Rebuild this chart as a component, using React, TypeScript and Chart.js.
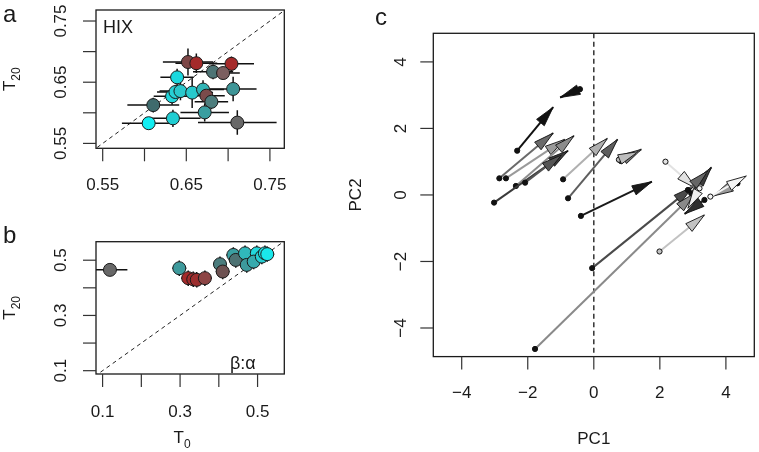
import React, { useEffect, useRef } from "react";
import { Chart, registerables } from "chart.js";
Chart.register(...registerables);

const FONT = '"Liberation Sans", Arial, Helvetica, sans-serif';

// ---------- Panel a (HIX) ----------
const aT0 = [0.652, 0.662, 0.704, 0.682, 0.694, 0.639, 0.706, 0.633, 0.637, 0.643, 0.657, 0.670, 0.674, 0.680, 0.6105, 0.672, 0.634, 0.605, 0.711];
const aT20 = [0.683, 0.681, 0.680, 0.667, 0.665, 0.658, 0.639, 0.627, 0.634, 0.6355, 0.633, 0.638, 0.628, 0.618, 0.6126, 0.6007, 0.591, 0.583, 0.584];
const aErrT0 = [0.030, 0.025, 0.027, 0.024, 0.020, 0.020, 0.028, 0.022, 0.022, 0.025, 0.025, 0.025, 0.022, 0.020, 0.031, 0.029, 0.033, 0.032, 0.047];
const aErrT20 = [0.022, 0.016, 0.012, 0.012, 0.010, 0.014, 0.020, 0.014, 0.012, 0.015, 0.025, 0.015, 0.016, 0.012, 0.012, 0.015, 0.014, 0.010, 0.020];
const aColors = ["#7d4747", "#a42a2a", "#a52a2a", "#4d7475", "#7b5f60", "#1ad8de", "#3e9597", "#22d6db", "#26d0d5", "#2ac8cc", "#27c9cc", "#31b4b6", "#7a4b4b", "#4d7d7d", "#3f6b6d", "#3a9ea0", "#21cdd2", "#12eef2", "#686868"];
const aTicks = [0.55, 0.6, 0.65, 0.7, 0.75];
const aTickLabels = ["0.55", "", "0.65", "", "0.75"];

// ---------- Panel b (beta:alpha) ----------
const bT0 = [0.119, 0.298, 0.321, 0.334, 0.343, 0.364, 0.403, 0.410, 0.4375, 0.4437, 0.4677, 0.472, 0.498, 0.490, 0.511, 0.519, 0.525];
const bT20 = [0.465, 0.471, 0.435, 0.431, 0.429, 0.435, 0.4855, 0.459, 0.519, 0.501, 0.525, 0.483, 0.525, 0.495, 0.513, 0.525, 0.522];
const bErrT0 = [0.045, 0.018, 0.018, 0.018, 0.018, 0.018, 0.018, 0.018, 0.018, 0.018, 0.018, 0.018, 0.018, 0.018, 0.018, 0.018, 0.018];
const bErrT20 = [0.0, 0.028, 0.028, 0.028, 0.028, 0.028, 0.028, 0.028, 0.028, 0.028, 0.028, 0.028, 0.028, 0.028, 0.028, 0.028, 0.028];
const bColors = ["#686868", "#3e9a9c", "#a52a2a", "#a32c2c", "#9c2e2e", "#8d4545", "#4b7c7d", "#6e5252", "#3aa0a2", "#4d7273", "#30b8bb", "#3d9a9c", "#22d8dc", "#36aaad", "#26cdd1", "#1ee2e6", "#1ae8ec"];
const bTicks = [0.1, 0.2, 0.3, 0.4, 0.5];
const bTickLabels = ["0.1", "", "0.3", "", "0.5"];

// ---------- Panel c (PCA arrows) ----------
const cX0 = [-2.32, -0.42, -2.86, -2.66, -2.36, -3.02, -2.08, -0.93, -0.78, 0.82, 0.76, -0.39, 2.17, -0.05, -1.78, 2.95, 2.85, 4.35, 3.53, 3.20, 3.35, 1.99];
const cY0 = [1.33, 3.18, 0.50, 0.50, 0.27, -0.23, 0.37, 0.47, -0.10, 1.02, 1.06, -0.63, 1.00, -2.20, -4.63, 0.05, 0.15, 0.35, -0.05, 0.20, -0.15, -1.70];
const cX1 = [-1.23, -1.02, -1.23, -0.88, -0.60, -0.78, -0.98, 0.41, 0.72, 1.44, 1.34, 1.76, 3.10, 3.00, 3.05, 3.56, 3.45, 3.62, 4.62, 2.85, 2.75, 3.35];
const cY1 = [2.64, 2.93, 1.86, 1.67, 1.78, 1.33, 1.20, 1.70, 1.67, 1.37, 1.30, 0.40, 0.20, 0.25, 0.05, 0.83, 0.72, -0.03, 0.57, -0.40, -0.57, -0.60];
const cShade = ["#111111", "#111111", "#6a6a6a", "#9a9a9a", "#8c8c8c", "#3a3a3a", "#555555", "#b0b0b0", "#5e5e5e", "#777777", "#bdbdbd", "#1a1a1a", "#e2e2e2", "#4a4a4a", "#8a8a8a", "#3c3c3c", "#666666", "#9a9a9a", "#f4f4f4", "#eeeeee", "#2e2e2e", "#c2c2c2"];
const cTicks = [-4, -2, 0, 2, 4];
const cTickLabels = ["\u22124", "\u22122", "0", "2", "4"];

const TXT = "#1a1a1a";

function lum(hex: string) {
  const v = parseInt(hex.slice(1, 3), 16);
  return v / 255;
}

function drawSub(ctx: CanvasRenderingContext2D, cx: number, cy: number, main: string, sub: string, size: number) {
  const subSize = Math.round(size * 0.72);
  ctx.font = `${size}px ${FONT}`;
  const w1 = ctx.measureText(main).width;
  ctx.font = `${subSize}px ${FONT}`;
  const w2 = sub ? ctx.measureText(sub).width : 0;
  const x0 = cx - (w1 + w2) / 2;
  const base = cy + size * 0.36;
  ctx.textAlign = "left";
  ctx.textBaseline = "alphabetic";
  ctx.font = `${size}px ${FONT}`;
  ctx.fillText(main, x0, base);
  if (sub) {
    ctx.font = `${subSize}px ${FONT}`;
    ctx.fillText(sub, x0 + w1, base + size * 0.28);
  }
}

type FrameCfg = {
  xTicks: number[]; xTickLabels: string[];
  yTicks: number[]; yTickLabels: string[];
  xLabOff: number; yLabOff: number;
  xTitle?: [string, string]; xTitleOff?: number; xTitleDx?: number;
  yTitle?: [string, string]; yTitleOff?: number;
  letter: string; letterX: number; letterY: number;
  note?: string; noteX?: number; noteY?: number;
  diag?: [number, number];
  vline?: number;
};

function framePlugin(f: FrameCfg) {
  return {
    id: "frame",
    beforeDatasetsDraw(chart: any) {
      const { ctx, chartArea: ca, scales } = chart;
      const x = scales.x, y = scales.y;
      ctx.save();
      ctx.beginPath();
      ctx.rect(ca.left, ca.top, ca.right - ca.left, ca.bottom - ca.top);
      ctx.clip();
      if (f.diag) {
        ctx.setLineDash([4, 3.5]);
        ctx.strokeStyle = "#222";
        ctx.lineWidth = 1;
        ctx.beginPath();
        ctx.moveTo(x.getPixelForValue(f.diag[0]), y.getPixelForValue(f.diag[0]));
        ctx.lineTo(x.getPixelForValue(f.diag[1]), y.getPixelForValue(f.diag[1]));
        ctx.stroke();
      }
      if (f.vline !== undefined) {
        ctx.setLineDash([5, 3.5]);
        ctx.strokeStyle = "#333";
        ctx.lineWidth = 1.5;
        const px = x.getPixelForValue(f.vline);
        ctx.beginPath();
        ctx.moveTo(px, ca.top);
        ctx.lineTo(px, ca.bottom);
        ctx.stroke();
      }
      ctx.restore();
    },
    afterDraw(chart: any) {
      const { ctx, chartArea: ca, scales } = chart;
      const x = scales.x, y = scales.y;
      ctx.save();
      ctx.strokeStyle = "#1a1a1a";
      ctx.lineWidth = 1.3;
      ctx.strokeRect(ca.left, ca.top, ca.right - ca.left, ca.bottom - ca.top);
      ctx.lineWidth = 1.2;
      ctx.strokeStyle = "#333";
      ctx.fillStyle = TXT;
      ctx.font = `17px ${FONT}`;
      f.xTicks.forEach((v, i) => {
        const px = x.getPixelForValue(v);
        ctx.beginPath();
        ctx.moveTo(px, ca.bottom);
        ctx.lineTo(px, ca.bottom + 13);
        ctx.stroke();
        if (f.xTickLabels[i]) {
          ctx.textAlign = "center";
          ctx.textBaseline = "middle";
          ctx.fillText(f.xTickLabels[i], px, ca.bottom + f.xLabOff);
        }
      });
      f.yTicks.forEach((v, i) => {
        const py = y.getPixelForValue(v);
        ctx.beginPath();
        ctx.moveTo(ca.left - 13, py);
        ctx.lineTo(ca.left, py);
        ctx.stroke();
        if (f.yTickLabels[i]) {
          ctx.save();
          ctx.translate(ca.left - f.yLabOff, py);
          ctx.rotate(-Math.PI / 2);
          ctx.textAlign = "center";
          ctx.textBaseline = "middle";
          ctx.fillText(f.yTickLabels[i], 0, 0);
          ctx.restore();
        }
      });
      if (f.xTitle) {
        drawSub(ctx, (ca.left + ca.right) / 2 + (f.xTitleDx || 0), ca.bottom + (f.xTitleOff || 0), f.xTitle[0], f.xTitle[1], 17);
      }
      if (f.yTitle) {
        ctx.save();
        ctx.translate(ca.left - (f.yTitleOff || 0), (ca.top + ca.bottom) / 2);
        ctx.rotate(-Math.PI / 2);
        drawSub(ctx, 0, 0, f.yTitle[0], f.yTitle[1], 17);
        ctx.restore();
      }
      ctx.font = `24px ${FONT}`;
      ctx.textAlign = "left";
      ctx.textBaseline = "alphabetic";
      ctx.fillText(f.letter, f.letterX, f.letterY);
      if (f.note) {
        ctx.font = `18px ${FONT}`;
        ctx.fillText(f.note, f.noteX || 0, f.noteY || 0);
      }
      ctx.restore();
    },
  };
}

function errPlugin(xs: number[], ys: number[], ex: number[], ey: number[]) {
  return {
    id: "errbars",
    beforeDatasetsDraw(chart: any) {
      const { ctx, chartArea: ca, scales } = chart;
      const x = scales.x, y = scales.y;
      ctx.save();
      ctx.beginPath();
      ctx.rect(ca.left, ca.top, ca.right - ca.left, ca.bottom - ca.top);
      ctx.clip();
      ctx.strokeStyle = "#111";
      ctx.lineWidth = 1.5;
      xs.forEach((v, i) => {
        const px = x.getPixelForValue(v);
        const py = y.getPixelForValue(ys[i]);
        ctx.beginPath();
        if (ex[i] > 0) {
          ctx.moveTo(x.getPixelForValue(v - ex[i]), py);
          ctx.lineTo(x.getPixelForValue(v + ex[i]), py);
        }
        if (ey[i] > 0) {
          ctx.moveTo(px, y.getPixelForValue(ys[i] - ey[i]));
          ctx.lineTo(px, y.getPixelForValue(ys[i] + ey[i]));
        }
        ctx.stroke();
      });
      ctx.restore();
    },
  };
}

const arrowHeadPlugin = {
  id: "arrowheads",
  afterDatasetDraw(chart: any, args: any) {
    const i = args.index;
    const { ctx, scales } = chart;
    const x = scales.x, y = scales.y;
    const x0 = x.getPixelForValue(cX0[i]), y0 = y.getPixelForValue(cY0[i]);
    const x1 = x.getPixelForValue(cX1[i]), y1 = y.getPixelForValue(cY1[i]);
    const ang = Math.atan2(y1 - y0, x1 - x0);
    const L = 20, W = 5;
    const bx = x1 - L * Math.cos(ang), by = y1 - L * Math.sin(ang);
    const nx = -Math.sin(ang) * W, ny = Math.cos(ang) * W;
    ctx.save();
    ctx.beginPath();
    ctx.moveTo(x1, y1);
    ctx.lineTo(bx + nx, by + ny);
    ctx.lineTo(bx - nx, by - ny);
    ctx.closePath();
    ctx.fillStyle = cShade[i];
    ctx.fill();
    ctx.strokeStyle = "#111";
    ctx.lineWidth = 0.9;
    ctx.stroke();
    ctx.restore();
  },
};

function scatterConfig(xs: number[], ys: number[], colors: string[], range: { x: [number, number]; y: [number, number] }, padding: any, frame: FrameCfg, ex: number[], ey: number[]) {
  return {
    type: "scatter" as const,
    data: {
      datasets: [
        {
          data: xs.map((v, i) => ({ x: v, y: ys[i] })),
          pointRadius: 6.5,
          pointHoverRadius: 6.5,
          pointBackgroundColor: colors,
          pointBorderColor: "#1a1a1a",
          pointBorderWidth: 1,
        },
      ],
    },
    options: {
      animation: false as const,
      responsive: false,
      maintainAspectRatio: false,
      events: [],
      layout: { padding },
      scales: {
        x: { type: "linear" as const, min: range.x[0], max: range.x[1], display: false },
        y: { type: "linear" as const, min: range.y[0], max: range.y[1], display: false },
      },
      plugins: { legend: { display: false }, tooltip: { enabled: false } },
    },
    plugins: [framePlugin(frame), errPlugin(xs, ys, ex, ey)],
  };
}

export default function App() {
  const refA = useRef<HTMLCanvasElement>(null);
  const refB = useRef<HTMLCanvasElement>(null);
  const refC = useRef<HTMLCanvasElement>(null);

  useEffect(() => {
    const chartA = new Chart(
      refA.current!,
      scatterConfig(
        aT0, aT20, aColors,
        { x: [0.542, 0.7672], y: [0.542, 0.768] },
        { left: 96, top: 10, right: 45.7, bottom: 66.7 },
        {
          xTicks: aTicks, xTickLabels: aTickLabels, yTicks: aTicks, yTickLabels: aTickLabels,
          xLabOff: 37, yLabOff: 35,
          yTitle: ["T", "20"], yTitleOff: 87,
          letter: "a", letterX: 3, letterY: 22,
          note: "HIX", noteX: 103, noteY: 33,
          diag: [0.5, 0.8],
        },
        aErrT0, aErrT20
      ) as any
    );
    const chartB = new Chart(
      refB.current!,
      scatterConfig(
        bT0, bT20, bColors,
        { x: [0.083, 0.569], y: [0.088, 0.567] },
        { left: 96, top: 26.7, right: 45.7, bottom: 78 },
        {
          xTicks: bTicks, xTickLabels: bTickLabels, yTicks: bTicks, yTickLabels: bTickLabels,
          xLabOff: 38, yLabOff: 35,
          xTitle: ["T", "0"], xTitleOff: 63, xTitleDx: -8,
          yTitle: ["T", "20"], yTitleOff: 87,
          letter: "b", letterX: 3, letterY: 28,
          note: "\u03b2:\u03b1", noteX: 230, noteY: 154,
          diag: [0.0, 0.7],
        },
        bErrT0, bErrT20
      ) as any
    );
    const n = cX0.length;
    const chartC = new Chart(refC.current!, {
      type: "line",
      data: {
        datasets: cX0.map((x0, i) => ({
          data: [
            { x: x0, y: cY0[i] },
            { x: cX1[i], y: cY1[i] },
          ],
          borderColor: cShade[i],
          borderWidth: 2,
          pointRadius: [2.6, 0],
          pointHoverRadius: [2.6, 0],
          pointBackgroundColor: lum(cShade[i]) > 0.72 ? cShade[i] : "#111111",
          pointBorderColor: "#111111",
          pointBorderWidth: 1,
          order: n - i,
          fill: false,
        })),
      },
      options: {
        animation: false,
        responsive: false,
        maintainAspectRatio: false,
        events: [],
        layout: { padding: { left: 103.3, top: 33.3, right: 4.7, bottom: 95.4 } },
        scales: {
          x: { type: "linear", min: -4.86, max: 4.86, display: false },
          y: { type: "linear", min: -4.86, max: 4.86, display: false },
        },
        plugins: { legend: { display: false }, tooltip: { enabled: false } },
      },
      plugins: [
        framePlugin({
          xTicks: cTicks, xTickLabels: cTickLabels, yTicks: cTicks, yTickLabels: cTickLabels,
          xLabOff: 36.5, yLabOff: 31.6,
          xTitle: ["PC1", ""], xTitleOff: 81.4,
          yTitle: ["PC2", ""], yTitleOff: 78.3,
          letter: "c", letterX: 45, letterY: 25,
          vline: 0,
        }),
        arrowHeadPlugin,
      ],
    } as any);
    return () => {
      chartA.destroy();
      chartB.destroy();
      chartC.destroy();
    };
  }, []);

  return (
    <div style={{ position: "absolute", left: 0, top: 0, width: 759, height: 452, background: "#fff", overflow: "hidden" }}>
      <canvas ref={refA} width={330} height={215} style={{ position: "absolute", left: 0, top: 0, width: 330, height: 215 }} />
      <canvas ref={refB} width={330} height={237} style={{ position: "absolute", left: 0, top: 215, width: 330, height: 237 }} />
      <canvas ref={refC} width={429} height={452} style={{ position: "absolute", left: 330, top: 0, width: 429, height: 452 }} />
    </div>
  );
}
